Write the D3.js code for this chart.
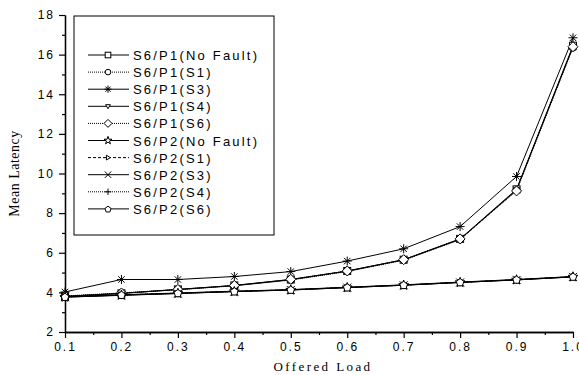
<!DOCTYPE html>
<html>
<head>
<meta charset="utf-8">
<script src="https://cdn.jsdelivr.net/npm/d3@7"></script>
<style>
  body { margin: 0; background: #fff; }
  text { fill: #000; }
</style>
</head>
<body>
<div id="chart"></div>
<script>
// offered load values on the x axis
var loads = [0.1, 0.2, 0.3, 0.4, 0.5, 0.6, 0.7, 0.8, 0.9, 1.0];

var seriesNames = ["S6/P1(No Fault)", "S6/P1(S1)", "S6/P1(S3)", "S6/P1(S4)", "S6/P1(S6)",
                   "S6/P2(No Fault)", "S6/P2(S1)", "S6/P2(S3)", "S6/P2(S4)", "S6/P2(S6)"];

var p1NoFault = [3.80, 3.95, 4.15, 4.35, 4.65, 5.08, 5.65, 6.70, 9.20, 16.45];
var p1S1      = [3.80, 3.96, 4.13, 4.33, 4.62, 5.05, 5.62, 6.66, 9.15, 16.35];
var p1S3      = [4.02, 4.65, 4.65, 4.80, 5.05, 5.58, 6.20, 7.32, 9.85, 16.85];
var p1S4      = [3.80, 3.95, 4.14, 4.34, 4.64, 5.07, 5.64, 6.68, 9.18, 16.40];
var p1S6      = [3.82, 3.97, 4.15, 4.35, 4.66, 5.08, 5.65, 6.70, 9.12, 16.40];
var p2NoFault = [3.76, 3.86, 3.95, 4.04, 4.12, 4.24, 4.36, 4.50, 4.63, 4.78];
var p2S1      = [3.78, 3.87, 3.96, 4.05, 4.13, 4.25, 4.37, 4.51, 4.64, 4.80];
var p2S3      = [3.76, 3.85, 3.94, 4.04, 4.12, 4.24, 4.36, 4.50, 4.63, 4.78];
var p2S4      = [3.77, 3.86, 3.95, 4.05, 4.13, 4.25, 4.37, 4.51, 4.64, 4.79];
var p2S6      = [3.78, 3.88, 3.97, 4.06, 4.14, 4.26, 4.38, 4.52, 4.65, 4.80];

var allValues = [p1NoFault, p1S1, p1S3, p1S4, p1S6, p2NoFault, p2S1, p2S3, p2S4, p2S6];

var markerTypes = ["square", "circle", "asterisk", "triDown", "diamond",
                   "star", "triRight", "cross", "plus", "pentagon"];
var dashStyles = ["", "1,1", "", "", "1,1", "", "3,2", "", "1,1", ""];

var xTicks = [0.1, 0.2, 0.3, 0.4, 0.5, 0.6, 0.7, 0.8, 0.9, 1.0];
var yTicks = [2, 4, 6, 8, 10, 12, 14, 16, 18];

var width = 579, height = 375;
var plotLeft = 65, plotRight = 573, plotTop = 15, plotBottom = 332;

var svg = d3.select("#chart").append("svg")
    .attr("width", width)
    .attr("height", height);

var x = d3.scaleLinear().domain([0.1, 1.0]).range([plotLeft, plotRight]);
var y = d3.scaleLinear().domain([2, 18]).range([plotBottom, plotTop]);

// draw a marker shape centred at (0,0), k scales it
function drawMarker(g, type, k) {
    var r = 3.5 * k;
    if (type == "square") {
        g.append("rect").attr("x", -r).attr("y", -r).attr("width", 2 * r).attr("height", 2 * r)
            .attr("fill", "#fff").attr("stroke", "#000");
    } else if (type == "circle") {
        g.append("circle").attr("r", r).attr("fill", "#fff").attr("stroke", "#000");
    } else if (type == "diamond") {
        g.append("path").attr("d", d3.line()([[0, -5 * k], [5 * k, 0], [0, 5 * k], [-5 * k, 0]]) + "Z")
            .attr("fill", "#fff").attr("stroke", "#000");
    } else if (type == "triDown") {
        g.append("path").attr("d", d3.line()([[-3 * k, -2 * k], [3 * k, -2 * k], [0, 3 * k]]) + "Z")
            .attr("fill", "#fff").attr("stroke", "#000");
    } else if (type == "triRight") {
        g.append("path").attr("d", d3.line()([[-2 * k, -3 * k], [3 * k, 0], [-2 * k, 3 * k]]) + "Z")
            .attr("fill", "#fff").attr("stroke", "#000");
    } else if (type == "pentagon") {
        var pts = d3.range(5).map(function(i) {
            var a = -Math.PI / 2 + i * 2 * Math.PI / 5;
            return [4 * k * Math.cos(a), 4 * k * Math.sin(a) + 0.5];
        });
        g.append("path").attr("d", d3.line()(pts) + "Z").attr("fill", "#fff").attr("stroke", "#000");
    } else if (type == "star") {
        g.append("path").attr("d", d3.symbol().type(d3.symbolStar).size(30 * k * k)())
            .attr("fill", "#fff").attr("stroke", "#000");
    } else if (type == "asterisk") {
        var a = 4.5 * k, b = 3.2 * k;
        g.append("path").attr("d", "M" + (-a) + ",0L" + a + ",0M" + (-b) + "," + (-b) + "L" + b + "," + b +
                "M" + (-b) + "," + b + "L" + b + "," + (-b) + "M0," + (-a) + "L0," + a)
            .attr("stroke", "#000").attr("stroke-width", 1);
    } else if (type == "cross") {
        var c = 4 * k;
        g.append("path").attr("d", "M" + (-c) + "," + (-c) + "L" + c + "," + c + "M" + (-c) + "," + c + "L" + c + "," + (-c))
            .attr("stroke", "#000");
    } else if (type == "plus") {
        var p = 4 * k;
        g.append("path").attr("d", "M" + (-p) + ",0L" + p + ",0M0," + (-p) + "L0," + p).attr("stroke", "#000");
    }
}

// axes
var yAxis = svg.append("g")
    .attr("transform", "translate(" + plotLeft + ",0)")
    .call(d3.axisLeft(y).tickValues(yTicks).tickSize(6).tickSizeOuter(0).tickPadding(4).tickFormat(d3.format("d")));
var yMinor = svg.append("g")
    .attr("transform", "translate(" + plotLeft + ",0)")
    .call(d3.axisLeft(y).tickValues(d3.range(3, 18, 2)).tickSize(3).tickSizeOuter(0).tickFormat(""));

var xAxis = svg.append("g")
    .attr("transform", "translate(0," + plotBottom + ")")
    .call(d3.axisBottom(x).tickValues(xTicks).tickSize(6).tickSizeOuter(0).tickPadding(4).tickFormat(d3.format(".1f")));
var xMinor = svg.append("g")
    .attr("transform", "translate(0," + plotBottom + ")")
    .call(d3.axisBottom(x).tickValues(d3.range(0.15, 1.0, 0.1)).tickSize(3).tickSizeOuter(0).tickFormat(""));

svg.selectAll(".domain").attr("stroke", "#000").attr("stroke-width", 1.3);
svg.selectAll(".tick line").attr("stroke", "#000").attr("stroke-width", 1.2);
svg.selectAll(".tick text")
    .attr("font-family", "Arial, 'Liberation Sans', sans-serif")
    .attr("font-size", 12)
    .style("letter-spacing", "2px");

// axis titles
svg.append("text")
    .attr("x", (plotLeft + plotRight) / 2 + 4)
    .attr("y", 371)
    .attr("text-anchor", "middle")
    .attr("font-family", "'Times New Roman', 'Liberation Serif', serif")
    .attr("font-size", 13)
    .style("letter-spacing", "2.4px")
    .text("Offered  Load");

svg.append("text")
    .attr("transform", "translate(19," + ((plotTop + plotBottom) / 2) + ") rotate(-90)")
    .attr("text-anchor", "middle")
    .attr("font-family", "'Times New Roman', 'Liberation Serif', serif")
    .attr("font-size", 14)
    .style("letter-spacing", "0.5px")
    .text("Mean Latency");

// series lines and markers
var line = d3.line()
    .x(function(d, i) { return x(loads[i]); })
    .y(function(d) { return y(d); });

allValues.forEach(function(vals, s) {
    svg.append("path")
        .attr("d", line(vals))
        .attr("fill", "none")
        .attr("stroke", "#000")
        .attr("stroke-width", 1)
        .attr("stroke-dasharray", dashStyles[s]);
});

allValues.forEach(function(vals, s) {
    vals.forEach(function(v, i) {
        var g = svg.append("g").attr("transform", "translate(" + x(loads[i]) + "," + y(v) + ")");
        drawMarker(g, markerTypes[s], 1);
    });
});

// legend
var legend = svg.append("g");
legend.append("rect")
    .attr("x", 74).attr("y", 16)
    .attr("width", 200).attr("height", 219)
    .attr("fill", "#fff")
    .attr("stroke", "#000")
    .attr("stroke-width", 1);

seriesNames.forEach(function(name, s) {
    var ly = 55 + s * 17.1;
    var item = legend.append("g").attr("transform", "translate(0," + ly + ")");
    item.append("line")
        .attr("x1", 88).attr("x2", 129)
        .attr("y1", 0).attr("y2", 0)
        .attr("stroke", "#000")
        .attr("stroke-width", 1)
        .attr("stroke-dasharray", dashStyles[s]);
    var m = item.append("g").attr("transform", "translate(108,0)");
    drawMarker(m, markerTypes[s], 0.8);
    item.append("text")
        .attr("x", 133)
        .attr("y", 5)
        .attr("font-family", "Arial, 'Liberation Sans', sans-serif")
        .attr("font-size", 13)
        .style("letter-spacing", "2.2px")
        .text(name);
});
</script>
</body>
</html>
